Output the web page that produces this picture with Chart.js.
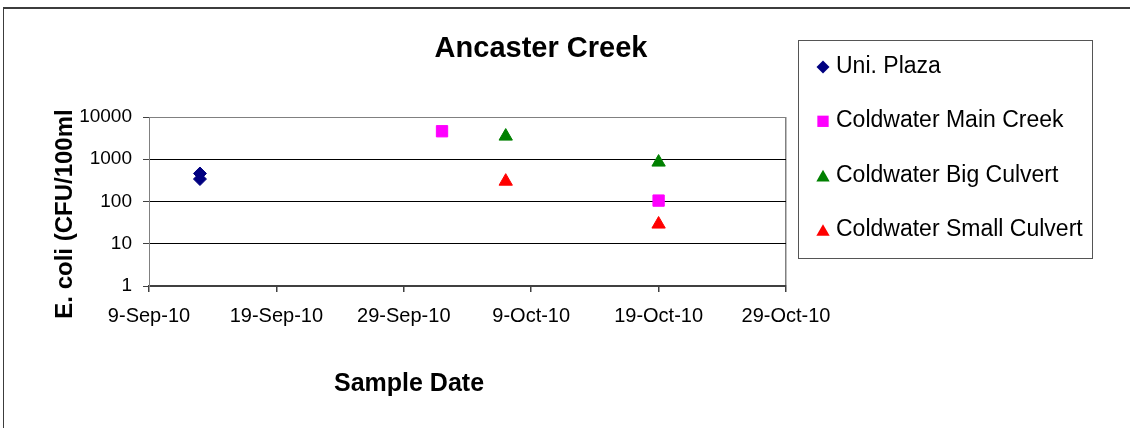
<!DOCTYPE html>
<html>
<head>
<meta charset="utf-8">
<script src="https://cdn.jsdelivr.net/npm/chart.js@4.4.0/dist/chart.umd.min.js"></script>
<style>
html, body { margin: 0; padding: 0; background: #fff; overflow: hidden; }
#wrap { position: relative; width: 1130px; height: 428px; }
#frame { position: absolute; left: 3px; top: 7px; width: 1140px; height: 440px; border-top: 2px solid #3c3c3c; border-left: 1px solid #3c3c3c; }
canvas { position: absolute; left: 0; top: 0; }
</style>
</head>
<body>
<div id="wrap">
  <div id="frame"></div>
  <canvas id="creek_chart" width="1130" height="428"></canvas>
</div>
<script>
// chart texts
var chartTitle = 'Ancaster Creek';
var xTitle = 'Sample Date';
var yTitle = 'E. coli (CFU/100ml';
var seriesNames = ['Uni. Plaza', 'Coldwater Main Creek', 'Coldwater Big Culvert', 'Coldwater Small Culvert'];

// sample values (CFU/100ml) by date
var uniPlazaDates = ['2010-09-13', '2010-09-13'];
var uniPlazaValues = [460, 340];
var mainCreekDates = ['2010-10-02', '2010-10-19'];
var mainCreekValues = [4600, 105];
var bigCulvertDates = ['2010-10-07', '2010-10-19'];
var bigCulvertValues = [3500, 850];
var smallCulvertDates = ['2010-10-07', '2010-10-19'];
var smallCulvertValues = [300, 29];

// axis ticks
var xTickDates = ['2010-09-09', '2010-09-19', '2010-09-29', '2010-10-09', '2010-10-19', '2010-10-29'];
var yTickValues = [1, 10, 100, 1000, 10000];

var months = ["Jan", "Feb", "Mar", "Apr", "May", "Jun", "Jul", "Aug", "Sep", "Oct", "Nov", "Dec"];
var FONT = '"Liberation Sans", Arial, sans-serif';

function dayNum(s) {
    return Math.round(Date.parse(s + 'T00:00:00Z') / 86400000);
}

function formatDay(d) {
    var dt = new Date(d * 86400000);
    return dt.getUTCDate() + '-' + months[dt.getUTCMonth()] + '-' + String(dt.getUTCFullYear()).slice(2);
}

function toPoints(dates, values) {
    var pts = [];
    for (var i = 0; i < dates.length; i++) {
        pts.push({ x: dayNum(dates[i]), y: values[i] });
    }
    return pts;
}

var seriesStyles = [
    { color: '#000080', shape: 'rectRot', radius: 6.5 },
    { color: '#FF00FF', shape: 'rect', radius: 8 },
    { color: '#008000', shape: 'triangle', radius: 7.7 },
    { color: '#FF0000', shape: 'triangle', radius: 7.7 }
];
var seriesPoints = [
    toPoints(uniPlazaDates, uniPlazaValues),
    toPoints(mainCreekDates, mainCreekValues),
    toPoints(bigCulvertDates, bigCulvertValues),
    toPoints(smallCulvertDates, smallCulvertValues)
];

var xMin = dayNum(xTickDates[0]);
var xMax = dayNum(xTickDates[xTickDates.length - 1]);

function drawMarker(ctx, shape, x, y, r) {
    ctx.beginPath();
    if (shape === 'rectRot') {
        ctx.moveTo(x - r, y); ctx.lineTo(x, y - r); ctx.lineTo(x + r, y); ctx.lineTo(x, y + r);
    } else if (shape === 'rect') {
        var s = r * Math.SQRT1_2;
        ctx.rect(x - s, y - s, 2 * s, 2 * s);
    } else {
        var h = r * 1.5, w = r * Math.sqrt(3) / 2;
        ctx.moveTo(x, y - h / 2); ctx.lineTo(x + w, y + h / 2); ctx.lineTo(x - w, y + h / 2);
    }
    ctx.closePath();
    ctx.fill();
}

// title, axis titles and the boxed legend
var decorPlugin = {
    id: 'decor',
    afterDraw: function(chart) {
        var ctx = chart.ctx;
        ctx.save();
        ctx.fillStyle = '#000';
        ctx.textBaseline = 'alphabetic';
        ctx.textAlign = 'center';
        ctx.font = 'bold 29px ' + FONT;
        ctx.fillText(chartTitle, 541, 57);
        ctx.font = 'bold 25px ' + FONT;
        ctx.fillText(xTitle, 409, 391);
        ctx.save();
        ctx.translate(72, 214);
        ctx.rotate(-Math.PI / 2);
        ctx.font = 'bold 24px ' + FONT;
        ctx.fillText(yTitle, 0, 0);
        ctx.restore();

        ctx.strokeStyle = '#555';
        ctx.lineWidth = 1;
        ctx.strokeRect(798.5, 40.5, 294, 218);
        ctx.textAlign = 'left';
        ctx.font = '23px ' + FONT;
        for (var i = 0; i < seriesNames.length; i++) {
            var base = 73 + i * 54.3;
            ctx.fillStyle = seriesStyles[i].color;
            drawMarker(ctx, seriesStyles[i].shape, 823, base - 6, seriesStyles[i].radius);
            ctx.fillStyle = '#000';
            ctx.fillText(seriesNames[i], 836, base);
        }
        ctx.restore();
    }
};

document.addEventListener("DOMContentLoaded", function() {
    var statisticsItem = document.getElementById("creek_chart");

    var datasets = [];
    for (var i = 0; i < seriesNames.length; i++) {
        datasets.push({
            label: seriesNames[i],
            data: seriesPoints[i],
            backgroundColor: seriesStyles[i].color,
            borderColor: seriesStyles[i].color,
            borderWidth: 1,
            pointStyle: seriesStyles[i].shape,
            pointRadius: seriesStyles[i].radius,
            showLine: false
        });
    }

    var options = {
        responsive: false,
        animation: false,
        devicePixelRatio: 1,
        events: [],
        layout: { padding: { left: 0, right: 344, top: 117, bottom: 0 } },
        plugins: {
            legend: { display: false },
            tooltip: { enabled: false },
            title: { display: false }
        },
        scales: {
            x: {
                type: 'linear',
                min: xMin,
                max: xMax,
                afterBuildTicks: function(scale) {
                    scale.ticks = xTickDates.map(function(d) { return { value: dayNum(d) }; });
                },
                afterFit: function(scale) { scale.height = 142; },
                ticks: {
                    callback: function(v) { return formatDay(v); },
                    color: '#000',
                    font: { family: FONT, size: 20 },
                    padding: 12,
                    maxRotation: 0,
                    autoSkip: false
                },
                grid: {
                    color: function(c) { return c.tick && c.tick.value === xMax ? '#808080' : 'rgba(0,0,0,0)'; },
                    tickColor: '#404040',
                    tickLength: 6,
                    lineWidth: 1.5
                },
                border: { color: '#404040', width: 2 }
            },
            y: {
                type: 'logarithmic',
                min: 1,
                max: 10000,
                afterBuildTicks: function(scale) {
                    scale.ticks = yTickValues.map(function(v) { return { value: v }; });
                },
                afterFit: function(scale) { scale.width = 149; },
                ticks: {
                    callback: function(v) { return String(v); },
                    color: '#000',
                    font: { family: FONT, size: 19 },
                    padding: 11,
                    autoSkip: false
                },
                grid: {
                    color: function(c) { return c.tick && c.tick.value === 10000 ? '#808080' : '#000'; },
                    tickColor: '#404040',
                    tickLength: 6,
                    lineWidth: 1
                },
                border: { color: '#808080', width: 1 }
            }
        }
    };

    new Chart(statisticsItem, {
        type: 'scatter',
        data: { datasets: datasets },
        options: options,
        plugins: [decorPlugin]
    });
});
</script>
</body>
</html>
